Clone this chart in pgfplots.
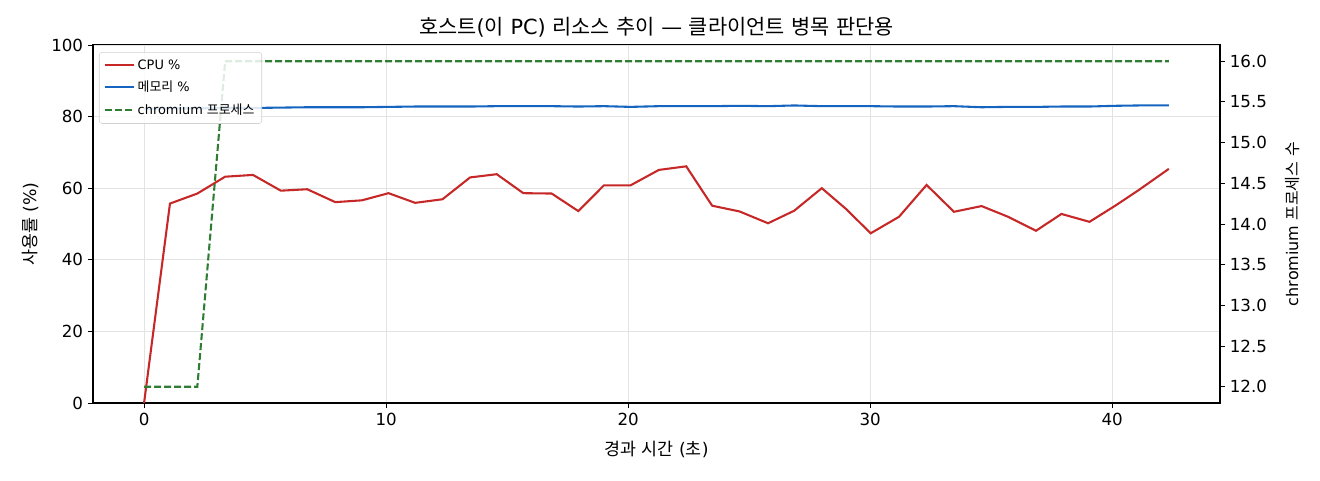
\documentclass[border=0pt]{standalone}
\usepackage{fontspec}
\setmainfont{DejaVu Sans}
\newfontfamily\kr{Noto Sans CJK KR}
\usepackage{pgfplots}
\usepackage{pgfplotstable}
\pgfplotsset{compat=1.18}
\definecolor{cpured}{HTML}{C62828}
\definecolor{memblue}{HTML}{1565C0}
\definecolor{procgreen}{HTML}{2E7D32}
\pgfplotstableread{
t cpu mem proc
0 0 82.2 12
1.07 55.7 82.3 12
2.2 58.5 82.3 12
3.35 63.2 82.4 16
4.5 63.7 82.4 16
5.65 59.3 82.5 16
6.74 59.7 82.6 16
7.9 56.1 82.6 16
9.0 56.6 82.6 16
10.1 58.6 82.7 16
11.2 55.9 82.8 16
12.33 56.9 82.8 16
13.47 63.0 82.8 16
14.57 63.9 82.9 16
15.67 58.6 82.9 16
16.84 58.5 82.9 16
17.94 53.6 82.8 16
19.0 60.8 82.9 16
20.1 60.8 82.7 16
21.27 65.1 82.9 16
22.4 66.1 82.9 16
23.47 55.1 82.9 16
24.6 53.5 83.0 16
25.78 50.2 82.9 16
26.86 53.7 83.1 16
28.0 60.0 82.9 16
29.0 54.2 82.9 16
30.02 47.4 82.9 16
31.19 52.0 82.8 16
32.33 60.9 82.8 16
33.46 53.4 82.9 16
34.6 55.0 82.6 16
35.7 52.0 82.7 16
36.85 48.1 82.7 16
37.9 52.8 82.8 16
39.06 50.6 82.8 16
40.1 55.0 83.0 16
41.1 59.5 83.1 16
42.34 65.4 83.1 16
}\datatable
\begin{document}
\begin{tikzpicture}
\useasboundingbox (-66.96pt,-55.44pt) rectangle (883.44pt,290.16pt);
\pgfplotsset{
  common/.style={
    at={(0,0)}, anchor=south west,
    scale only axis, width=811.4pt, height=257.8pt,
    xmin=-2.11, xmax=44.45,
    tick align=outside,
    major tick length=3.6pt,
    tick style={black, line width=0.6pt},
    axis line style={black, line width=0.8pt},
    tick label style={font=\fontsize{12}{14}\selectfont},
    /pgf/number format/assume math mode=true,
    label style={font=\fontsize{12.5}{14}\selectfont},
  }
}
\begin{axis}[common,
  ymin=0, ymax=100,
  xtick={0,10,20,30,40}, ytick={0,20,40,60,80,100},
  xtick pos=bottom, ytick pos=left,
  grid=major, grid style={gray!22, line width=0.6pt},
  xlabel={{\kr 경과} {\kr 시간} ({\kr 초})},
  ylabel={{\kr 사용률} (\%)},
  xlabel style={at={(axis description cs:0.5,-0.13)}, anchor=center},
  ylabel style={at={(axis description cs:-0.0555,0.5)}, anchor=center},
  title={{\kr 호스트}({\kr 이} PC) {\kr 리소스} {\kr 추이} — {\kr 클라이언트} {\kr 병목} {\kr 판단용}},
  title style={at={(axis description cs:0.5,1.048)}, anchor=center, yshift=-6pt, font=\fontsize{15}{17}\selectfont},
]
\addplot[cpured, line width=1.5pt] table[x=t, y=cpu] {\datatable};
\addplot[memblue, line width=1.5pt] table[x=t, y=mem] {\datatable};
\end{axis}
\begin{axis}[common,
  ymin=11.8, ymax=16.2,
  ytick={12,12.5,...,16},
  axis y line*=right, axis x line=none,
  yticklabel style={/pgf/number format/.cd, fixed, fixed zerofill, precision=1},
  ylabel={chromium {\kr 프로세스} {\kr 수}},
  ylabel style={at={(axis description cs:1.064,0.5)}, anchor=center, font=\fontsize{11.5}{13}\selectfont},
  legend cell align=left,
  legend style={at={(axis description cs:0.0053,0.98)}, anchor=north west,
    draw=gray!35, rounded corners=2pt, fill=white, fill opacity=0.85, text opacity=1,
    font=\fontsize{9.3}{10.5}\selectfont, row sep=3pt, inner sep=3.2pt},
  legend image code/.code={\draw[#1] (0pt,0pt) -- (21pt,0pt);},
]
\addlegendimage{cpured, line width=1.5pt}
\addlegendentry{CPU \%}
\addlegendimage{memblue, line width=1.5pt}
\addlegendentry{{\kr 메모리} \%}
\addplot[procgreen, line width=1.5pt, dash pattern=on 5pt off 2.2pt] table[x=t, y=proc] {\datatable};
\addlegendentry{chromium {\kr 프로세스}}
\end{axis}
\end{tikzpicture}
\end{document}
